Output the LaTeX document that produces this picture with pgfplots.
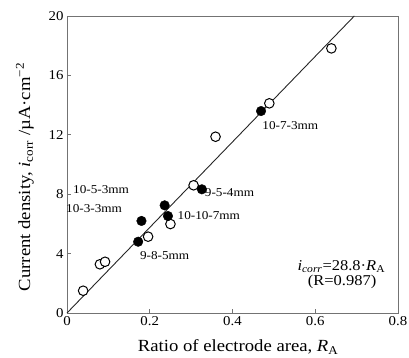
\documentclass[border=0pt]{standalone}
\usepackage{fontspec}
\setmainfont{Liberation Serif}[FakeStretch=1.1]
\usepackage{pgfplots}
\pgfplotsset{compat=1.18}
\begin{document}
\begin{tikzpicture}
\begin{axis}[
  scale only axis, width=331bp, height=297bp,
  xmin=0, xmax=0.8, ymin=0, ymax=20,
  xtick={0,0.2,0.4,0.6,0.8}, xticklabels={0,0.2,0.4,0.6,0.8},
  ytick={0,4,8,12,16,20}, yticklabels={0,4,8,12,16,20},
  tick pos=left, tick align=inside,
  axis line style={black!55, line width=0.9bp},
  major tick length=4bp, tick style={black!55, line width=0.8bp},
  /pgf/number format/assume math mode=true,
  ticklabel style={font=\fontsize{13.5bp}{16bp}\selectfont},
  xlabel={Ratio of electrode area, \textit{R}\textsubscript{A}},
  ylabel={Current density, \textit{i}\textsubscript{corr} /µA·cm\textsuperscript{−2}},
  label style={font=\fontsize{17bp}{20bp}\selectfont},
  xlabel style={at={(axis description cs:0.517,-0.114)}, anchor=center},
  ylabel style={at={(axis description cs:-0.127,0.458)}, anchor=center},
  clip=false,
]
\coordinate (O) at (rel axis cs:0,0);
\addplot[black!85, line width=0.9bp, no marks] coordinates {(0,0) (0.6944,20)};
\addplot[only marks, mark=*, mark size=4.8bp, mark options={fill=white, draw=black, line width=1bp}] coordinates {
(0.039,1.50) (0.0795,3.28) (0.092,3.45) (0.196,5.14) (0.250,5.99) (0.306,8.60) (0.359,11.87) (0.489,14.12) (0.639,17.82)};
\addplot[only marks, mark=*, mark size=4.8bp, mark options={fill=black, draw=black}] coordinates {
(0.172,4.80) (0.180,6.20) (0.236,7.25) (0.244,6.53) (0.326,8.33) (0.469,13.6)};
\begin{scope}[every node/.style={font=\fontsize{12bp}{14bp}\selectfont, inner sep=0pt}]
\node[anchor=west] at (axis cs:0.0145,8.28) {10-5-3mm};
\node[anchor=west] at (axis cs:-0.0024,7.0) {10-3-3mm};
\node[anchor=center] at (axis cs:0.236,3.86) {9-8-5mm};
\node[anchor=west] at (axis cs:0.267,6.53) {10-10-7mm};
\node[anchor=west] at (axis cs:0.333,8.1) {9-5-4mm};
\node[anchor=west] at (axis cs:0.472,12.6) {10-7-3mm};
\end{scope}
\node[font=\fontsize{15bp}{17bp}\selectfont, inner sep=0pt] at (axis cs:0.663,3.1) {\textit{i}\textsubscript{\textit{corr}}=28.8·\textit{R}\textsubscript{A}};
\node[font=\fontsize{15bp}{17bp}\selectfont, inner sep=0pt] at (axis cs:0.665,2.09) {(R=0.987)};
\end{axis}
\pgfresetboundingbox
\path[use as bounding box] ([shift={(-67bp,-45bp)}]O) rectangle ++(409bp,358bp);
\end{tikzpicture}
\end{document}
